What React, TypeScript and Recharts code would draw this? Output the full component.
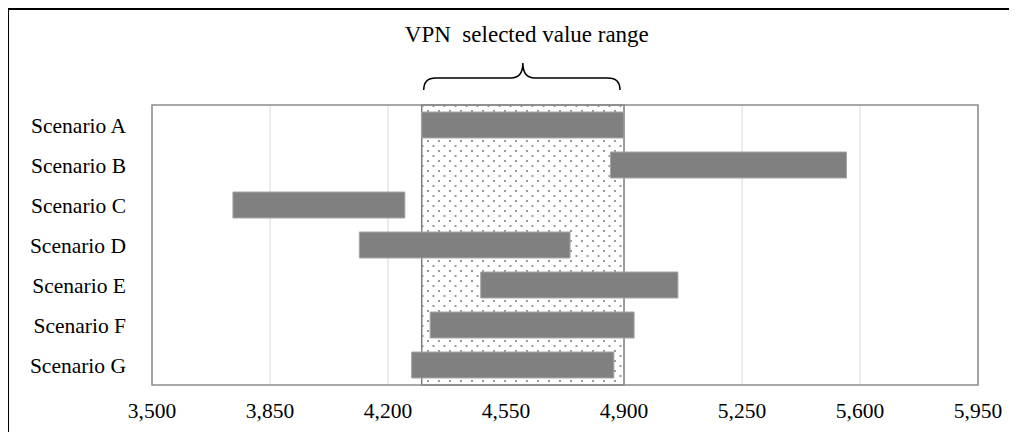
import React from 'react';
import { BarChart, Bar, XAxis, YAxis, CartesianGrid, ReferenceArea, Label } from 'recharts';

const scenarios = ['Scenario A', 'Scenario B', 'Scenario C', 'Scenario D', 'Scenario E', 'Scenario F', 'Scenario G'];
const lows = [4300, 4860, 3740, 4115, 4475, 4325, 4270];
const highs = [4900, 5560, 4250, 4740, 5060, 4930, 4870];
const xTicks = [3500, 3850, 4200, 4550, 4900, 5250, 5600, 5950];
const selectedRange = [4300, 4900];
const rangeTitle = 'VPN  selected value range';

const data = scenarios.map((name, i) => ({ name, range: [lows[i], highs[i]] }));

const FONT = '"Liberation Serif", "Times New Roman", serif';

// curly brace + caption drawn above the selected range
const Bracket = (props: any) => {
  const { x, y, width } = props.viewBox;
  const x1 = x + 2;
  const x2 = x + width - 4;
  const cx = x + width / 2;
  const d = `M ${x1} ${y - 15} Q ${x1} ${y - 27} ${x1 + 12} ${y - 27} L ${cx - 12} ${y - 27} Q ${cx} ${y - 27} ${cx} ${y - 42} ` +
    `Q ${cx} ${y - 27} ${cx + 12} ${y - 27} L ${x2 - 12} ${y - 27} Q ${x2} ${y - 27} ${x2} ${y - 15}`;
  return (
    <g>
      <path d={d} fill="none" stroke="#000" strokeWidth={1.5} />
      <text x={cx + 4} y={y - 63} textAnchor="middle" fontFamily={FONT} fontSize={23} fill="#000" style={{ whiteSpace: 'pre' }}>
        {rangeTitle}
      </text>
    </g>
  );
};

export default function App() {
  return (
    <div style={{ width: 1009, height: 424, marginLeft: -1, borderTop: '2px solid #000', borderLeft: '2px solid #000', boxSizing: 'border-box', background: '#fff' }}>
      <BarChart
        width={1008}
        height={422}
        data={data}
        layout="vertical"
        margin={{ top: 95, right: 39, bottom: 0, left: 0 }}
        barSize={26}
      >
        <defs>
          <pattern id="dots" width={11} height={10} patternUnits="userSpaceOnUse">
            <rect width={11} height={10} fill="#fff" />
            <rect x={0} y={0} width={2} height={2} fill="#9a9a9a" />
            <rect x={5.5} y={5} width={2} height={2} fill="#9a9a9a" />
          </pattern>
        </defs>
        <CartesianGrid horizontal={false} stroke="#d9d9d9" />
        <XAxis
          type="number"
          domain={[3500, 5950]}
          ticks={xTicks}
          tickFormatter={(v: number) => v.toLocaleString('en-US')}
          tickLine={false}
          tickSize={0}
          tickMargin={18}
          axisLine={false}
          height={47}
          interval={0}
          tick={{ fill: '#000', fontFamily: FONT, fontSize: 21.5 }}
        />
        <YAxis
          type="category"
          dataKey="name"
          width={143}
          tickLine={false}
          tickSize={0}
          tickMargin={26}
          axisLine={false}
          interval={0}
          tick={{ fill: '#000', fontFamily: FONT, fontSize: 21.5 }}
        />
        <ReferenceArea x1={selectedRange[0]} x2={selectedRange[1]} fill="url(#dots)" fillOpacity={1} stroke="#7f7f7f" strokeWidth={1.5}>
          <Label content={Bracket} />
        </ReferenceArea>
        <Bar dataKey="range" fill="#808080" stroke="#a6a6a6" strokeWidth={1} isAnimationActive={false} />
        <ReferenceArea x1={3500} x2={5950} fill="none" stroke="#8c8c8c" strokeWidth={1.5} />
      </BarChart>
    </div>
  );
}
